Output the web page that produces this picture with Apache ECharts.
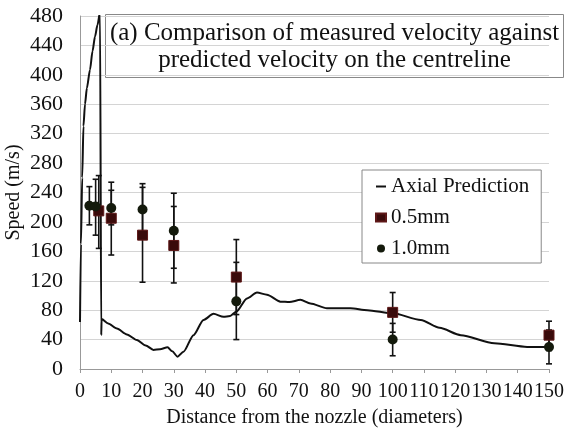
<!DOCTYPE html>
<html>
<head>
<meta charset="utf-8">
<script src="https://cdn.jsdelivr.net/npm/echarts@6/dist/echarts.min.js"></script>
<style>
  html, body { margin: 0; padding: 0; background: #fff; }
  #chart { width: 566px; height: 434px; }
</style>
</head>
<body>
<div id="chart"></div>
<script>
// Axial prediction curve (distance in diameters, speed in m/s)
const predX = [0, 0.3, 0.7, 1.1, 1.6, 2.2, 3.2, 4, 4.8, 5.6, 6.4, 6.8, 6.9, 9, 11.8, 15, 18.2, 21, 23.5, 25.6, 28, 29.5, 31.2, 33.1, 36.3, 39.5, 42.7, 45.9, 48, 50, 53.4, 56.6, 59.8, 64.1, 67, 70.5, 73.7, 79, 86.5, 91.9, 100, 109, 115, 121.8, 132.5, 143, 150];
const predY = [64, 170, 260, 330, 360, 382, 407, 432, 452, 468, 485, 46, 68, 62, 55, 47, 39.5, 32, 26, 27, 29.5, 24, 16.8, 23.5, 46, 66.7, 75, 71, 72, 78, 96, 104, 101, 91.6, 91, 94, 89, 82.5, 82.5, 80, 75.7, 66.7, 56, 46, 35, 30, 30];

// 0.5mm measurements
const x05 = [6, 10, 20, 30, 50, 100, 150];
const y05 = [215, 205, 182, 168, 125, 77, 46];
const lo05 = [164, 155, 118, 117, 74, 50, 25];
const hi05 = [263, 254, 247, 221, 176, 104, 65];

// 1.0mm measurements
const x10 = [3, 5, 10, 20, 30, 50, 100, 150];
const y10 = [222, 221, 219, 217, 188, 92, 40, 30];
const lo10 = [196, 182, 196, 182, 137, 40, 18, 7];
const hi10 = [248, 258, 243, 252, 239, 145, 62, 53];

const yTicks = [0, 40, 80, 120, 160, 200, 240, 280, 320, 360, 400, 440, 480];

const font = 'Liberation Serif';
const chart = echarts.init(document.getElementById('chart'));

const errorBars = (xs, lo, hi) => ({
  type: 'custom',
  silent: true,
  z: 3,
  data: xs.map((x, i) => [x, lo[i], hi[i]]),
  renderItem: (params, api) => {
    const a = api.coord([api.value(0), api.value(1)]);
    const b = api.coord([api.value(0), api.value(2)]);
    const style = { stroke: '#111', lineWidth: 1.6 };
    return {
      type: 'group',
      children: [
        { type: 'line', shape: { x1: a[0], y1: a[1], x2: b[0], y2: b[1] }, style },
        { type: 'line', shape: { x1: a[0] - 3, y1: a[1], x2: a[0] + 3, y2: a[1] }, style },
        { type: 'line', shape: { x1: b[0] - 3, y1: b[1], x2: b[0] + 3, y2: b[1] }, style }
      ]
    };
  }
});

const option = {
  animation: false,
  grid: { left: 80, right: 17, top: 16, bottom: 65, outerBoundsMode: 'none', containLabel: false },
  legend: {
    left: 362,
    top: 170,
    orient: 'vertical',
    backgroundColor: '#fff',
    borderColor: '#888',
    borderWidth: 1,
    padding: [6, 12, 4, 13],
    itemGap: 10,
    itemWidth: 10,
    itemHeight: 8,
    textStyle: { fontFamily: font, fontSize: 21, color: '#111' },
    data: [
      { name: 'Axial Prediction', icon: 'path://M0,3h10v2h-10z' },
      { name: '0.5mm', icon: 'rect' },
      { name: '1.0mm', icon: 'circle' }
    ]
  },
  xAxis: {
    type: 'value',
    min: 0,
    max: 150,
    interval: 10,
    name: 'Distance from the nozzle (diameters)',
    nameLocation: 'middle',
    nameGap: 39,
    nameTextStyle: { fontFamily: font, fontSize: 20, color: '#111' },
    axisLine: { lineStyle: { color: '#999' } },
    axisTick: { show: true, length: 4, lineStyle: { color: '#999' } },
    splitLine: { show: false },
    axisLabel: { fontFamily: font, fontSize: 20, color: '#111', margin: 13, showMaxLabel: true, showMinLabel: true, hideOverlap: false }
  },
  yAxis: {
    type: 'value',
    min: yTicks[0],
    max: yTicks[yTicks.length - 1],
    interval: 40,
    name: 'Speed (m/s)',
    nameLocation: 'middle',
    nameGap: 56,
    nameMoveOverlap: false,
    nameTextStyle: { fontFamily: font, fontSize: 20, color: '#111' },
    axisLine: { show: true, lineStyle: { color: '#999' } },
    axisTick: { show: false },
    splitLine: { lineStyle: { color: '#d4d4d4', width: 1.2 } },
    axisLabel: { fontFamily: font, fontSize: 22, color: '#111', margin: 17 }
  },
  graphic: [{
    type: 'group',
    left: 105,
    top: 14,
    z: 100,
    children: [
      { type: 'rect', shape: { x: 0, y: 0, width: 458, height: 63 }, style: { fill: '#fff', stroke: '#888', lineWidth: 1 } },
      {
        type: 'text',
        x: 229,
        y: 32,
        style: {
          text: '(a) Comparison of measured velocity against\npredicted velocity on the centreline',
          font: '25px "Liberation Serif"',
          fill: '#111',
          align: 'center',
          verticalAlign: 'middle',
          lineHeight: 27
        }
      }
    ]
  }],
  series: [
    {
      name: 'Axial Prediction',
      type: 'line',
      data: predX.map((x, i) => [x, predY[i]]),
      showSymbol: false,
      symbol: 'none',
      smooth: 0.25,
      smoothMonotone: 'x',
      clip: true,
      z: 2,
      lineStyle: { color: '#111', width: 2 },
      itemStyle: { color: '#111' }
    },
    errorBars(x05, lo05, hi05),
    errorBars(x10, lo10, hi10),
    {
      name: '0.5mm',
      type: 'scatter',
      symbol: 'rect',
      symbolSize: 10,
      z: 4,
      data: x05.map((x, i) => [x, y05[i]]),
      itemStyle: { color: '#3a0b0b', borderColor: '#5e1818', borderWidth: 1, opacity: 1 }
    },
    {
      name: '1.0mm',
      type: 'scatter',
      symbol: 'circle',
      symbolSize: 10,
      z: 5,
      data: x10.map((x, i) => [x, y10[i]]),
      itemStyle: { color: '#141a0c', opacity: 1 }
    }
  ]
};

chart.setOption(option);
</script>
</body>
</html>
